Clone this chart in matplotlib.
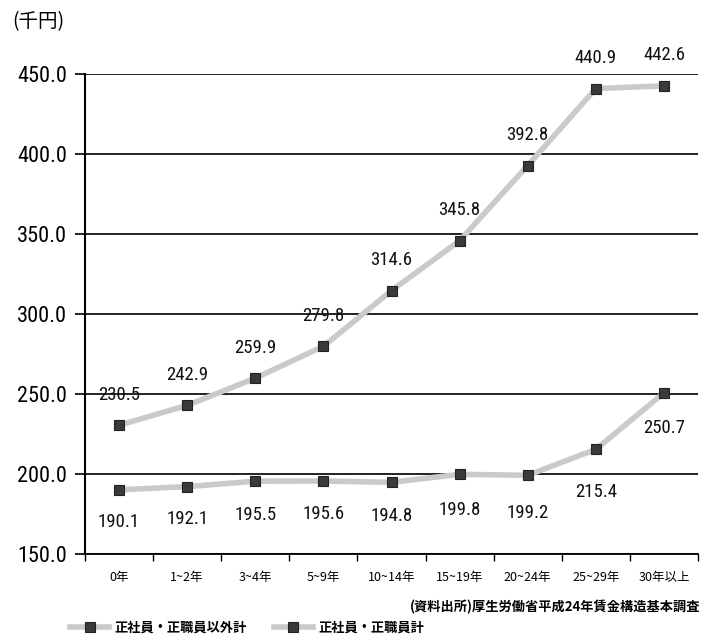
import matplotlib
matplotlib.use("Agg")
import matplotlib.pyplot as plt
from matplotlib.lines import Line2D
from matplotlib import font_manager

available = {f.name for f in font_manager.fontManager.ttflist}
narrow = [n for n in ["Liberation Sans Narrow", "DejaVu Sans Condensed", "Roboto Condensed",
                      "Open Sans Condensed", "Noto Sans Condensed"] if n in available]
num_family = narrow[:1] + ['Noto Sans CJK JP', 'DejaVu Sans']
cjk_family = ['Noto Sans CJK JP', 'DejaVu Sans']
plt.rcParams['font.family'] = num_family

categories = ["0年", "1~2年", "3~4年", "5~9年", "10~14年", "15~19年", "20~24年", "25~29年", "30年以上"]
regular = [230.5, 242.9, 259.9, 279.8, 314.6, 345.8, 392.8, 440.9, 442.6]
non_regular = [190.1, 192.1, 195.5, 195.6, 194.8, 199.8, 199.2, 215.4, 250.7]
series_names = ["正社員・正職員以外計", "正社員・正職員計"]
y_ticks = [150, 200, 250, 300, 350, 400, 450]

fig = plt.figure(figsize=(7.11, 6.43), dpi=100)
ax = fig.add_axes([85 / 711, 1 - 554 / 643, 613 / 711, 480 / 643])

x = list(range(len(categories)))
line_kw = dict(color="#cacaca", linewidth=4, marker="s", markersize=6.5,
               markerfacecolor="#3a3a3a", markeredgecolor="#222222", markeredgewidth=0.8,
               zorder=3)
ax.plot(x, non_regular, **line_kw)
ax.plot(x, regular, **line_kw)

for xi, v in zip(x, regular):
    ax.annotate(f"{v:.1f}", (xi, v), xytext=(0, 22), textcoords="offset points",
                ha="center", va="center", fontsize=13.5, color="#111111")
low_offsets = [-23, -23, -24, -24, -24, -26, -27, -31, -25]
for xi, v, dy in zip(x, non_regular, low_offsets):
    ax.annotate(f"{v:.1f}", (xi, v), xytext=(0, dy), textcoords="offset points",
                ha="center", va="center", fontsize=13.5, color="#111111")

ax.set_xlim(-0.5, len(categories) - 0.5)
ax.set_ylim(150, 450)
ax.set_yticks(y_ticks)
ax.set_yticklabels([f"{t:.1f}" for t in y_ticks], fontsize=16)
ax.yaxis.grid(True, color="#111111", linewidth=1.3)
ax.set_axisbelow(True)

ax.set_xticks(x)
ax.set_xticklabels(categories, fontsize=9, fontfamily=cjk_family)
ax.tick_params(axis="x", length=0, pad=12)
ax.set_xticks([i + 0.5 for i in range(-1, len(categories))], minor=True)
ax.tick_params(axis="x", which="minor", length=5, width=1, direction="out")
ax.tick_params(axis="y", length=7, width=1.2, direction="out", pad=6)

for side in ["top", "right"]:
    ax.spines[side].set_visible(False)
ax.spines["left"].set_linewidth(1.5)
ax.spines["bottom"].set_linewidth(1.3)

fig.text(12 / 711, 1 - 22 / 643, "(千円)", fontsize=14, va="center", ha="left",
         fontfamily=cjk_family)
fig.text(700 / 711, 1 - 607 / 643, "(資料出所)厚生労働省平成24年賃金構造基本調査", fontsize=9.5,
         va="center", ha="right", fontweight="bold", fontfamily=cjk_family)

handles = [Line2D([], [], **{k: v for k, v in line_kw.items() if k != "zorder"}) for _ in series_names]
fig.legend(handles, series_names, loc="center left", bbox_to_anchor=(58 / 711, 1 - 628 / 643),
           ncol=2, frameon=False, handlelength=3.0, columnspacing=2.0, handletextpad=0.4,
           prop={'family': cjk_family, 'size': 9.5, 'weight': 'bold'})

fig.savefig("out.png", dpi=100)
